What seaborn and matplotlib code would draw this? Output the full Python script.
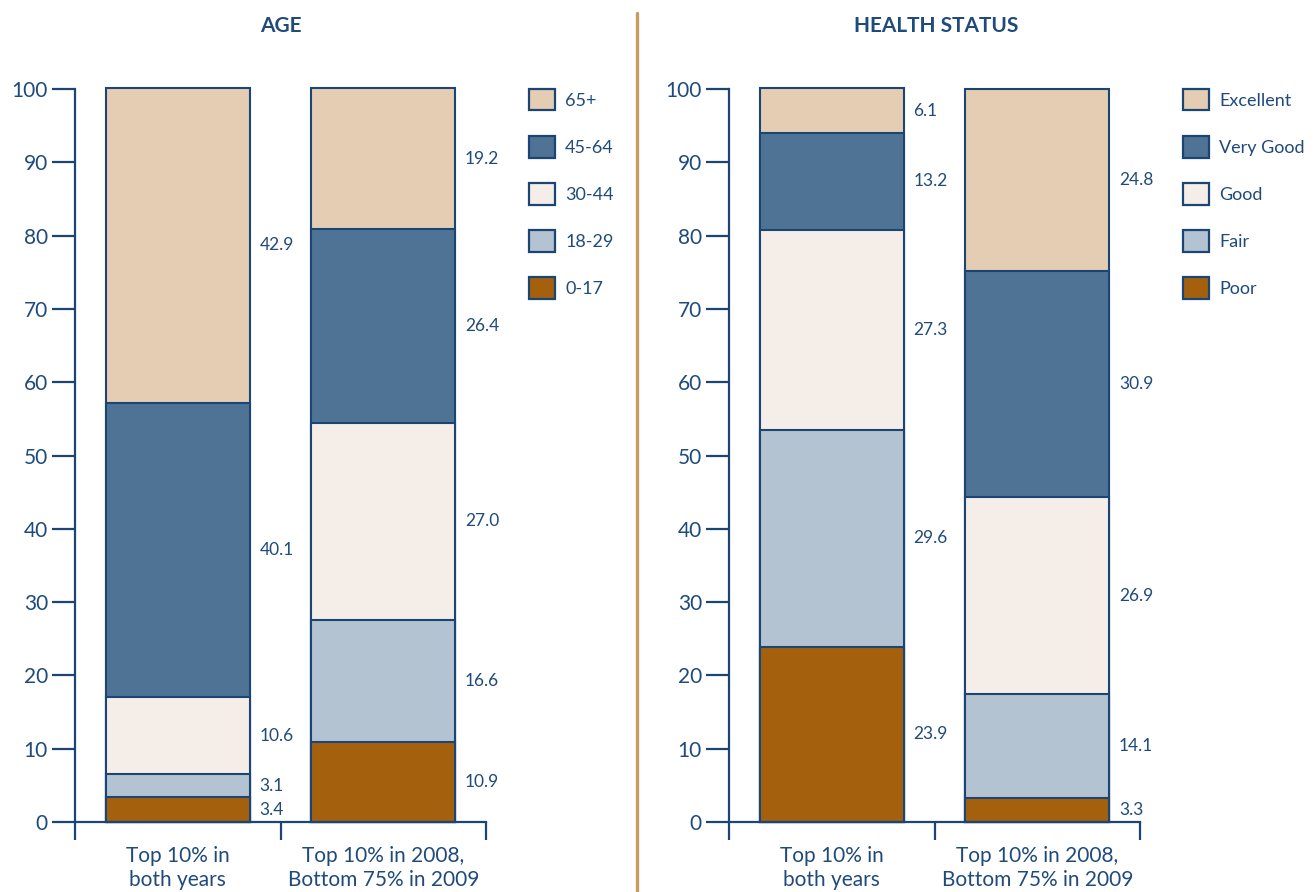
import pandas as pd
import seaborn as sns
import matplotlib.pyplot as plt
from matplotlib.patches import Patch
from matplotlib.lines import Line2D

# Data
groups = ['Top 10% in\nboth years', 'Top 10% in 2008,\nBottom 75% in 2009']

age_labels = ['0-17', '18-29', '30-44', '45-64', '65+']
age_both = [3.4, 3.1, 10.6, 40.1, 42.9]
age_moved = [10.9, 16.6, 27.0, 26.4, 19.2]

health_labels = ['Poor', 'Fair', 'Good', 'Very Good', 'Excellent']
health_both = [23.9, 29.6, 27.3, 13.2, 6.1]
health_moved = [3.3, 14.1, 26.9, 30.9, 24.8]

colors = ['#A5600E', '#B3C3D1', '#F5EEE8', '#4E7395', '#E4CDB3']
navy = '#1B4574'
text_c = '#1F4A7C'

sns.set_style('white')
plt.rcParams['font.family'] = ['Lato', 'DejaVu Sans']

fig = plt.figure(figsize=(13.15, 8.92), dpi=100)
W, H = 1315, 892


def stacked_panel(left_px, labels, both, moved, title, title_x, leg_x):
    ax = fig.add_axes([left_px / W, (H - 822) / H, 411 / W, (822 - 89) / H])
    df = pd.DataFrame({'group': groups * len(labels),
                       'cat': [c for c in labels for _ in groups],
                       'value': [v for pair in zip(both, moved) for v in pair]})
    df['cum'] = df.groupby('group')['value'].cumsum()
    # draw cumulative totals from the top segment down so each overlays the next
    for k in reversed(range(len(labels))):
        sub = df[df['cat'] == labels[k]]
        sns.barplot(data=sub, x='group', y='cum', order=groups, color=colors[k],
                    width=0.7, edgecolor=navy, linewidth=1.5, saturation=1,
                    ax=ax, errorbar=None)
    for p in ax.patches:
        p.set_clip_on(False)

    # value labels at segment midpoints
    for gi, vals in enumerate([both, moved]):
        base = 0
        for v in vals:
            ax.annotate(f'{v:.1f}', (gi + 0.35, base + v / 2), xytext=(7, 0),
                        textcoords='offset points', ha='left', va='center',
                        fontsize=12.5, color=text_c)
            base += v

    ax.set_ylim(0, 100)
    ax.set_xlim(-0.5, 1.5)
    ax.set_yticks(range(0, 101, 10))
    ax.set_xlabel('')
    ax.set_ylabel('')
    sns.despine(ax=ax, top=True, right=True)
    for s in ['left', 'bottom']:
        ax.spines[s].set_color(navy)
        ax.spines[s].set_linewidth(1.6)
    ax.tick_params(axis='y', direction='out', length=16.5, width=1.6, color=navy,
                   labelsize=15, labelcolor=text_c, pad=3, left=True)
    ax.tick_params(axis='x', which='major', length=0, labelsize=15,
                   labelcolor=text_c, pad=17)
    ax.set_xticks([-0.5, 0.5, 1.5], minor=True)
    ax.tick_params(axis='x', which='minor', direction='out', length=13, width=1.6,
                   color=navy, bottom=True)
    for t in ax.get_xticklabels():
        t.set_linespacing(1.25)

    fig.text(title_x / W, 1 - 26 / H, title, ha='center', va='center',
             fontsize=15, fontweight='bold', color=text_c)

    handles = [Patch(facecolor=colors[k], edgecolor=navy, linewidth=1.6)
               for k in reversed(range(len(labels)))]
    fig.legend(handles, list(reversed(labels)), loc='upper left',
               bbox_to_anchor=(leg_x / W, 1 - 89 / H), frameon=False,
               fontsize=13, handlelength=1.45, handleheight=1.45,
               labelspacing=1.42, handletextpad=0.55, borderpad=0,
               borderaxespad=0, labelcolor=text_c)
    return ax


stacked_panel(75, age_labels, age_both, age_moved, 'AGE', 281, 529)
stacked_panel(729, health_labels, health_both, health_moved, 'HEALTH STATUS', 936, 1183)

# divider between the two panels
fig.add_artist(Line2D([637 / W, 637 / W], [0, 1 - 13 / H], color='#C69C63',
                      linewidth=2.4))

plt.savefig('out.png', dpi=100)
